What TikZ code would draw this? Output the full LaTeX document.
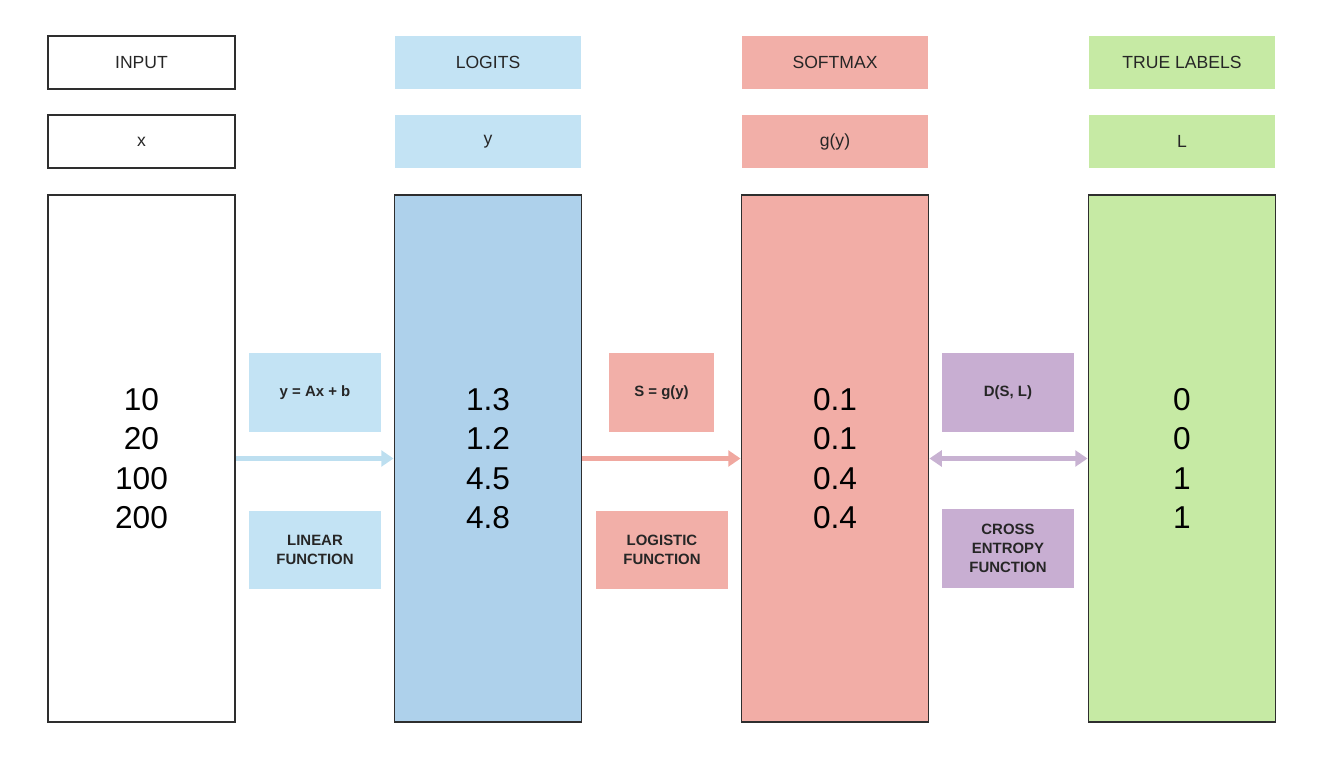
\documentclass[tikz,border=0pt]{standalone}
\usepackage{fontspec}
\setmainfont{Liberation Sans}
\usetikzlibrary{positioning}
\usetikzlibrary{arrows.meta}

\definecolor{lgtblue}{HTML}{C3E3F4}
\definecolor{colblue}{HTML}{AED1EB}
\definecolor{arrblue}{HTML}{BDDFF0}
\definecolor{lgtpink}{HTML}{F2AFA8}
\definecolor{colpink}{HTML}{F2ADA6}
\definecolor{arrpink}{HTML}{F0A8A0}
\definecolor{lgtgreen}{HTML}{C6EAA4}
\definecolor{lgtpurple}{HTML}{C8AED2}
\definecolor{arrpurple}{HTML}{C8B2D2}
\definecolor{edgegray}{HTML}{2E2E2E}

\tikzset{
  headbox/.style={minimum width=3.74cm, minimum height=1.06cm, inner sep=0pt,
    font=\fontsize{10}{12}\selectfont, text=black!85},
  colbox/.style={minimum width=3.74cm, minimum height=10.54cm, inner sep=0pt,
    draw=edgegray, line width=1.1pt, align=center,
    font=\fontsize{18}{22.4}\selectfont},
  funcbox/.style={minimum height=1.58cm, inner sep=0pt, align=center,
    font=\fontsize{8.5}{11}\selectfont\bfseries, text=black!85},
  flow/.style={line width=2.8pt, -{Triangle[length=7pt,width=9pt]}},
}

\begin{document}
\begin{tikzpicture}[x=0.02cm, y=-0.02cm]
 \useasboundingbox (0,0) rectangle (1319,773);
 % input column
 \node[headbox, draw=edgegray, line width=1pt] (intitle) at (141.5,62.5) {INPUT};
 \node[headbox, draw=edgegray, line width=1pt] (invar) at (141.5,141.5) {x};
 \node[colbox, fill=white] (incol) at (141.5,458.5) {10\\20\\100\\200};
 % logits column
 \node[headbox, fill=lgtblue] (logtitle) at (488,62.5) {LOGITS};
 \node[headbox, fill=lgtblue] (logvar) at (488,141.5) {y};
 \node[colbox, fill=colblue] (logcol) at (488,458.5) {1.3\\1.2\\4.5\\4.8};
 % softmax column
 \node[headbox, fill=lgtpink] (smtitle) at (835,62.5) {SOFTMAX};
 \node[headbox, fill=lgtpink] (smvar) at (835,141.5) {g(y)};
 \node[colbox, fill=colpink] (smcol) at (835,458.5) {0.1\\0.1\\0.4\\0.4};
 % true labels column
 \node[headbox, fill=lgtgreen] (lbtitle) at (1182,62.5) {TRUE LABELS};
 \node[headbox, fill=lgtgreen] (lbvar) at (1182,141.5) {L};
 \node[colbox, fill=lgtgreen] (lbcol) at (1182,458.5) {0\\0\\1\\1};

 % functions between columns
 \node[funcbox, fill=lgtblue, minimum width=2.64cm] (linfn) at (315,392.5) {y = Ax + b};
 \node[funcbox, fill=lgtblue, minimum width=2.64cm] (linname) at (315,550) {LINEAR\\FUNCTION};
 \node[funcbox, fill=lgtpink, minimum width=2.1cm] (logfn) at (661.5,392.5) {S = g(y)};
 \node[funcbox, fill=lgtpink, minimum width=2.64cm] (logname) at (662,550) {LOGISTIC\\FUNCTION};
 \node[funcbox, fill=lgtpurple, minimum width=2.64cm] (xefn) at (1008,392.5) {D(S, L)};
 \node[funcbox, fill=lgtpurple, minimum width=2.64cm] (xename) at (1008,548.5) {CROSS\\ENTROPY\\FUNCTION};

 \draw[flow, arrblue] (incol.east) -- (logcol.west);
 \draw[flow, arrpink] (logcol.east) -- (smcol.west);
 \draw[flow, arrpurple, {Triangle[length=7pt,width=9pt]}-{Triangle[length=7pt,width=9pt]}] (smcol.east) -- (lbcol.west);
\end{tikzpicture}
\end{document}
